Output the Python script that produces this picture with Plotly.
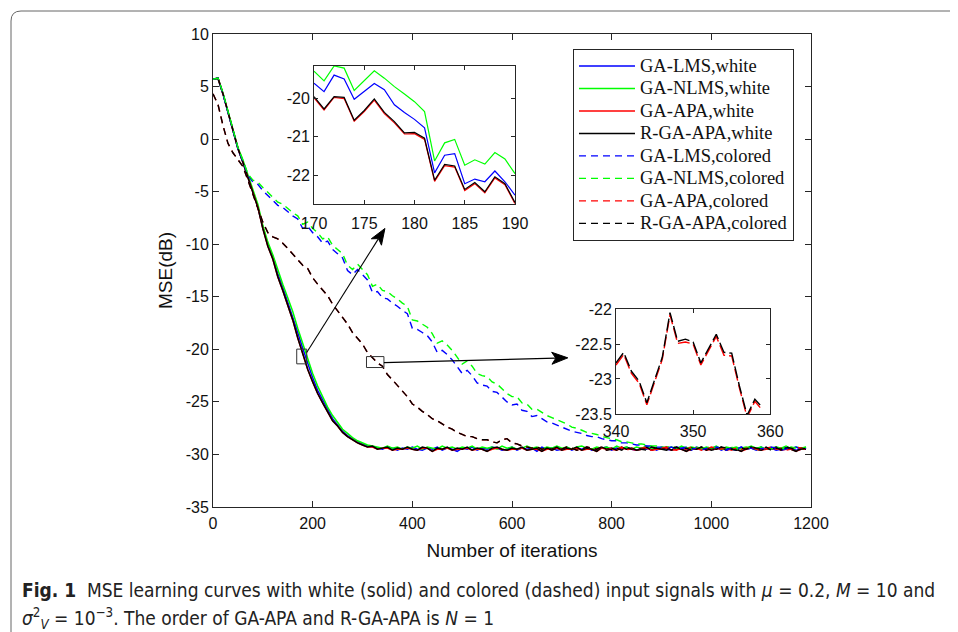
import plotly.graph_objects as go

# ---------------- data ----------------
ITER = list(range(0, 1200, 10))  # 0 .. 1190

W_LMS = [5.7, 5.8, 4.3, 2.5, 0.8, -0.9, -2.2, -3.6, -5.1, -6.4,
         -8.4, -10.0, -11.2, -12.8, -14.1, -15.5, -16.8, -18.4, -19.9, -21.4,
         -22.7, -23.9, -24.8, -25.8, -26.6, -27.2, -27.8, -28.2, -28.5, -28.8,
         -29.0, -29.2, -29.3, -29.4, -29.5, -29.3, -29.4, -29.6, -29.4, -29.5,
         -29.3, -29.5, -29.6, -29.4, -29.5, -29.3, -29.6, -29.4, -29.5, -29.7,
         -29.4, -29.5, -29.3, -29.6, -29.4, -29.5, -29.3, -29.4, -29.6, -29.5,
         -29.3, -29.6, -29.4, -29.5, -29.4, -29.7, -29.3, -29.5, -29.4, -29.6,
         -29.5, -29.3, -29.6, -29.4, -29.5, -29.3, -29.6, -29.5, -29.4, -29.3,
         -29.6, -29.4, -29.5, -29.3, -29.5, -29.6, -29.4, -29.5, -29.3, -29.6,
         -29.4, -29.5, -29.6, -29.3, -29.4, -29.5, -29.6, -29.3, -29.5, -29.4,
         -29.5, -29.3, -29.6, -29.4, -29.5, -29.6, -29.3, -29.5, -29.4, -29.6,
         -29.3, -29.5, -29.4, -29.6, -29.5, -29.3, -29.4, -29.6, -29.5, -29.4]

W_NLMS = [5.7, 5.8, 4.4, 2.6, 0.9, -0.8, -2.0, -3.4, -4.9, -6.2,
          -8.2, -9.8, -11.0, -12.5, -13.8, -15.1, -16.4, -18.0, -19.5, -21.0,
          -22.3, -23.5, -24.5, -25.5, -26.3, -27.0, -27.6, -28.0, -28.4, -28.7,
          -28.9, -29.1, -29.2, -29.3, -29.4, -29.2, -29.4, -29.3, -29.5, -29.3,
          -29.4, -29.2, -29.5, -29.3, -29.4, -29.5, -29.2, -29.4, -29.3, -29.5,
          -29.3, -29.4, -29.2, -29.5, -29.3, -29.4, -29.3, -29.5, -29.2, -29.4,
          -29.3, -29.5, -29.4, -29.2, -29.4, -29.3, -29.5, -29.3, -29.4, -29.2,
          -29.4, -29.3, -29.5, -29.3, -29.2, -29.4, -29.5, -29.3, -29.4, -29.3,
          -29.5, -29.2, -29.4, -29.3, -29.5, -29.3, -29.4, -29.2, -29.4, -29.5,
          -29.3, -29.4, -29.3, -29.5, -29.2, -29.4, -29.3, -29.4, -29.5, -29.3,
          -29.4, -29.2, -29.5, -29.3, -29.4, -29.3, -29.5, -29.4, -29.2, -29.4,
          -29.3, -29.5, -29.4, -29.3, -29.4, -29.2, -29.5, -29.3, -29.4, -29.3]

W_APA = [5.7, 5.8, 4.3, 2.5, 0.8, -0.9, -2.2, -3.7, -5.2, -6.5,
         -8.5, -10.2, -11.4, -13.1, -14.4, -15.8, -17.2, -18.9, -20.4, -21.9,
         -23.1, -24.2, -25.1, -26.0, -26.8, -27.3, -27.9, -28.3, -28.6, -28.9,
         -29.1, -29.3, -29.3, -29.5, -29.4, -29.4, -29.6, -29.5, -29.5, -29.4,
         -29.5, -29.6, -29.4, -29.4, -29.7, -29.5, -29.5, -29.4, -29.6, -29.5,
         -29.5, -29.4, -29.6, -29.5, -29.5, -29.7, -29.5, -29.4, -29.5, -29.6,
         -29.5, -29.5, -29.4, -29.6, -29.5, -29.5, -29.7, -29.5, -29.5, -29.4,
         -29.6, -29.5, -29.5, -29.4, -29.6, -29.5, -29.5, -29.7, -29.4, -29.5,
         -29.5, -29.6, -29.4, -29.5, -29.5, -29.6, -29.5, -29.4, -29.6, -29.5,
         -29.5, -29.4, -29.6, -29.5, -29.5, -29.7, -29.5, -29.5, -29.4, -29.6,
         -29.5, -29.5, -29.4, -29.6, -29.5, -29.5, -29.7, -29.5, -29.4, -29.5,
         -29.6, -29.5, -29.5, -29.4, -29.6, -29.5, -29.5, -29.7, -29.5, -29.5]

W_RAPA = [5.7, 5.8, 4.3, 2.5, 0.8, -0.9, -2.2, -3.7, -5.2, -6.5,
          -8.5, -10.2, -11.4, -13.1, -14.4, -15.8, -17.2, -18.9, -20.4, -21.9,
          -23.1, -24.2, -25.1, -26.0, -26.8, -27.3, -27.9, -28.3, -28.6, -28.9,
          -29.1, -29.3, -29.2, -29.5, -29.4, -29.3, -29.6, -29.4, -29.5, -29.3,
          -29.5, -29.6, -29.3, -29.4, -29.7, -29.4, -29.5, -29.3, -29.6, -29.4,
          -29.5, -29.3, -29.6, -29.4, -29.5, -29.7, -29.4, -29.3, -29.5, -29.6,
          -29.4, -29.5, -29.3, -29.6, -29.5, -29.4, -29.7, -29.4, -29.5, -29.3,
          -29.6, -29.4, -29.5, -29.3, -29.6, -29.4, -29.5, -29.7, -29.3, -29.5,
          -29.4, -29.6, -29.3, -29.5, -29.4, -29.6, -29.5, -29.3, -29.6, -29.4,
          -29.5, -29.3, -29.6, -29.4, -29.5, -29.7, -29.4, -29.5, -29.3, -29.6,
          -29.4, -29.5, -29.3, -29.6, -29.4, -29.5, -29.7, -29.4, -29.3, -29.5,
          -29.6, -29.4, -29.5, -29.3, -29.6, -29.4, -29.5, -29.7, -29.4, -29.5]

C_LMS = [5.7, 5.8, 4.3, 2.5, 0.8, -0.9, -2.1, -3.4, -4.1, -4.3,
         -4.9, -5.4, -5.8, -6.3, -6.5, -6.9, -7.3, -7.6, -8.5, -8.3,
         -8.9, -9.3, -9.9, -9.7, -10.5, -10.9, -11.3, -12.5, -12.9, -12.4,
         -12.9, -13.4, -14.6, -14.5, -15.1, -15.2, -15.6, -15.9, -16.3, -16.6,
         -18.0, -18.1, -18.4, -18.7, -19.3, -20.3, -20.1, -20.5, -21.0, -21.6,
         -22.3, -22.0, -22.5, -23.2, -23.4, -23.5, -24.0, -24.1, -24.6, -25.0,
         -25.3, -25.2, -25.8, -25.9, -26.4, -26.3, -26.6, -26.9, -27.0, -27.2,
         -27.4, -27.6, -27.8, -27.9, -28.0, -28.2, -28.3, -28.3, -28.5, -28.6,
         -28.7, -28.7, -28.9, -28.9, -29.0, -29.1, -29.1, -29.2, -29.2, -29.3,
         -29.3, -29.4, -29.3, -29.5, -29.4, -29.3, -29.5, -29.4, -29.6, -29.4,
         -29.5, -29.3, -29.4, -29.6, -29.4, -29.5, -29.3, -29.5, -29.4, -29.6,
         -29.4, -29.5, -29.3, -29.4, -29.6, -29.5, -29.4, -29.3, -29.5, -29.4]

C_NLMS = [5.7, 5.8, 4.4, 2.6, 0.9, -0.8, -2.0, -3.3, -3.9, -4.1,
          -4.6, -5.1, -5.5, -6.0, -6.2, -6.6, -7.0, -7.3, -8.1, -7.9,
          -8.5, -8.9, -9.5, -9.3, -10.1, -10.5, -10.9, -12.0, -12.4, -11.9,
          -12.4, -12.9, -14.0, -13.8, -14.4, -14.5, -14.9, -15.2, -15.6, -15.9,
          -17.2, -17.3, -17.6, -17.9, -18.5, -19.4, -19.2, -19.6, -20.1, -20.7,
          -21.4, -21.1, -21.6, -22.3, -22.5, -22.6, -23.1, -23.3, -23.8, -24.2,
          -24.5, -24.5, -25.1, -25.2, -25.7, -25.7, -26.0, -26.3, -26.5, -26.7,
          -26.9, -27.1, -27.4, -27.5, -27.7, -27.9, -28.0, -28.1, -28.3, -28.4,
          -28.5, -28.6, -28.8, -28.8, -28.9, -29.0, -29.0, -29.1, -29.2, -29.2,
          -29.3, -29.3, -29.2, -29.4, -29.3, -29.4, -29.5, -29.3, -29.4, -29.3,
          -29.4, -29.3, -29.5, -29.4, -29.3, -29.5, -29.4, -29.3, -29.4, -29.5,
          -29.3, -29.4, -29.5, -29.3, -29.4, -29.5, -29.3, -29.4, -29.5, -29.3]

C_APA = [4.3, 3.3, 1.3, -0.4, -1.3, -1.9, -2.6, -3.9, -5.3, -6.6,
         -7.9, -8.9, -9.3, -9.5, -9.9, -10.4, -10.9, -11.5, -12.0, -12.3,
         -13.2, -13.8, -14.4, -14.9, -15.7, -16.3, -17.0, -17.6, -18.4, -19.0,
         -19.5, -20.3, -20.8, -21.3, -21.6, -22.4, -22.9, -23.4, -23.9, -24.5,
         -25.2, -25.5, -25.9, -26.2, -26.6, -26.8, -27.1, -27.4, -27.6, -27.9,
         -28.1, -28.3, -28.3, -28.5, -28.6, -28.6, -28.8, -28.9, -28.6, -28.5,
         -28.9, -29.0, -29.2, -29.3, -29.4, -29.3, -29.5, -29.4, -29.6, -29.4,
         -29.5, -29.3, -29.4, -29.6, -29.5, -29.3, -29.4, -29.5, -29.3, -29.6,
         -29.4, -29.5, -29.3, -29.6, -29.4, -29.5, -29.4, -29.3, -29.6, -29.5,
         -29.4, -29.3, -29.5, -29.6, -29.4, -29.5, -29.3, -29.4, -29.6, -29.5,
         -29.3, -29.4, -29.5, -29.3, -29.6, -29.4, -29.5, -29.4, -29.3, -29.5,
         -29.6, -29.4, -29.3, -29.5, -29.4, -29.6, -29.5, -29.3, -29.4, -29.5]

C_RAPA = [4.3, 3.3, 1.3, -0.4, -1.3, -1.9, -2.6, -3.9, -5.3, -6.6,
          -7.9, -8.9, -9.3, -9.5, -9.9, -10.4, -10.9, -11.5, -12.0, -12.3,
          -13.2, -13.8, -14.4, -14.9, -15.7, -16.3, -17.0, -17.6, -18.4, -19.0,
          -19.5, -20.3, -20.8, -21.3, -21.6, -22.4, -22.9, -23.4, -23.9, -24.5,
          -25.2, -25.5, -25.9, -26.2, -26.6, -26.8, -27.1, -27.4, -27.6, -27.9,
          -28.1, -28.3, -28.3, -28.5, -28.6, -28.6, -28.8, -28.9, -28.6, -28.5,
          -28.9, -29.0, -29.2, -29.3, -29.4, -29.3, -29.5, -29.4, -29.6, -29.4,
          -29.5, -29.3, -29.4, -29.6, -29.5, -29.3, -29.4, -29.5, -29.3, -29.6,
          -29.5, -29.4, -29.6, -29.3, -29.5, -29.4, -29.5, -29.6, -29.3, -29.4,
          -29.5, -29.6, -29.4, -29.3, -29.5, -29.4, -29.6, -29.5, -29.3, -29.4,
          -29.6, -29.5, -29.3, -29.4, -29.5, -29.6, -29.4, -29.5, -29.3, -29.4,
          -29.5, -29.3, -29.6, -29.4, -29.5, -29.3, -29.4, -29.6, -29.5, -29.4]

# zoomed inset 1 (white inputs, iterations 170..190)
INSET1_ITER = list(range(170, 191))
INSET1_NLMS = [-19.30, -19.55, -19.16, -19.22, -19.80, -19.54, -19.29, -19.48, -19.70, -19.89,
               -20.09, -20.35, -21.63, -21.16, -21.07, -21.74, -21.60, -21.71, -21.41, -21.58, -21.96]
INSET1_LMS = [-19.61, -19.83, -19.40, -19.50, -20.03, -19.83, -19.62, -19.78, -20.17, -20.37,
              -20.55, -20.77, -21.94, -21.48, -21.44, -22.22, -22.10, -22.17, -21.89, -22.17, -22.52]
INSET1_APA = [-19.99, -20.31, -19.98, -20.01, -20.60, -20.35, -20.05, -20.40, -20.64, -20.93,
              -20.92, -21.07, -22.16, -21.75, -21.79, -22.40, -22.22, -22.46, -22.07, -22.25, -22.74]
INSET1_RAPA = [-19.96, -20.28, -19.96, -19.98, -20.57, -20.32, -20.02, -20.37, -20.61, -20.90,
               -20.89, -21.04, -22.13, -21.72, -21.76, -22.37, -22.19, -22.43, -22.04, -22.22, -22.71]

# zoomed inset 2 (colored inputs, iterations 340..359)
INSET2_ITER = list(range(340, 360))
INSET2_RAPA = [-22.77, -22.62, -22.89, -23.03, -23.34, -23.01, -22.69, -22.05, -22.46, -22.43,
               -22.47, -22.77, -22.57, -22.36, -22.62, -22.63, -23.10, -23.52, -23.29, -23.41]
INSET2_APA = [-22.80, -22.65, -22.92, -23.06, -23.37, -23.04, -22.72, -22.08, -22.49, -22.47,
              -22.50, -22.80, -22.60, -22.39, -22.66, -22.67, -23.13, -23.55, -23.32, -23.45]

NAMES = ["GA-LMS,white", "GA-NLMS,white", "GA-APA,white", "R-GA-APA,white",
         "GA-LMS,colored", "GA-NLMS,colored", "GA-APA,colored", "R-GA-APA,colored"]
COLORS = ["#0000ff", "#00ff00", "#ff0000", "#000000",
          "#0000ff", "#00ff00", "#ff0000", "#000000"]
MAIN_SERIES = [W_LMS, W_NLMS, W_APA, W_RAPA, C_LMS, C_NLMS, C_APA, C_RAPA]

X_TICKS = [0, 200, 400, 600, 800, 1000, 1200]
Y_TICKS = [10, 5, 0, -5, -10, -15, -20, -25, -30, -35]
IN1_X = [170, 175, 180, 185, 190]
IN1_Y = [-20, -21, -22]
IN2_X = [340, 350, 360]
IN2_Y = [-22, -22.5, -23, -23.5]

# zoom boxes (iteration range, dB range) and arrows (tail -> head) in data units
BOXES = [((168, 188), (-21.38, -19.98)), ((308, 343), (-21.73, -20.69))]
ARROWS = [((188, -20.3), (345, -8.5)), ((343, -21.26), (712, -20.81))]

# ---------------- figure ----------------
W, H = 950, 624
ML, MT, PW, PH = 205, 26, 598, 473
X_RANGE, Y_RANGE = (0, 1200), (-35, 10)
SX = PW / (X_RANGE[1] - X_RANGE[0])   # px per iteration
SY = PH / (Y_RANGE[1] - Y_RANGE[0])   # px per dB


def hyphen_labels(vals):
    return [("%g" % v) for v in vals]


DASH = "7px,5px"
fig = go.Figure()

for i, (name, col, ys) in enumerate(zip(NAMES, COLORS, MAIN_SERIES)):
    fig.add_trace(go.Scatter(
        x=ITER, y=ys, mode="lines", legendgroup=f"g{i}",
        name=f"<span style='font-size:18.5px'>{name}</span>",
        line=dict(color=col, width=1.5 if i < 4 else 1.4, dash="solid" if i < 4 else DASH),
        xaxis="x", yaxis="y"))

for ys, col in zip([INSET1_LMS, INSET1_NLMS, INSET1_APA, INSET1_RAPA], COLORS[:4]):
    fig.add_trace(go.Scatter(x=INSET1_ITER, y=ys, mode="lines", showlegend=False,
                             line=dict(color=col, width=1.2), xaxis="x2", yaxis="y2"))

for ys, col in zip([INSET2_APA, INSET2_RAPA], ["#ff0000", "#000000"]):
    fig.add_trace(go.Scatter(x=INSET2_ITER, y=ys, mode="lines", showlegend=False,
                             line=dict(color=col, width=1.4, dash="12px,4px"),
                             xaxis="x3", yaxis="y3"))

TICKFONT = dict(family="Liberation Sans, Arial", size=16, color="#111")
AX = dict(showline=True, linecolor="#262626", linewidth=1, mirror="ticks",
          ticks="inside", ticklen=6, tickcolor="#262626", showgrid=False,
          zeroline=False, tickfont=TICKFONT)
TITLEFONT = dict(family="Liberation Sans, Arial", size=19, color="#111")

fig.update_layout(
    width=W, height=H,
    margin=dict(l=ML, r=W - ML - PW, t=MT, b=H - MT - PH),
    paper_bgcolor="white", plot_bgcolor="white",
    xaxis=dict(AX, domain=[0, 1], range=list(X_RANGE), tickvals=X_TICKS,
               ticktext=hyphen_labels(X_TICKS), ticklabelstandoff=2,
               title=dict(text="Number of iterations", standoff=12, font=TITLEFONT)),
    yaxis=dict(AX, domain=[0, 1], range=list(Y_RANGE), tickvals=Y_TICKS,
               ticktext=hyphen_labels(Y_TICKS),
               title=dict(text="MSE(dB)", standoff=8, font=TITLEFONT)),
    xaxis2=dict(AX, domain=[0.1689, 0.505], range=[170, 190], tickvals=IN1_X,
                ticktext=hyphen_labels(IN1_X), anchor="y2", ticklen=4, ticklabelstandoff=5),
    yaxis2=dict(AX, domain=[0.6412, 0.9327], range=[-22.74, -19.16], tickvals=IN1_Y,
                ticktext=hyphen_labels(IN1_Y), anchor="x2", ticklen=4),
    xaxis3=dict(AX, domain=[0.6739, 0.9319], range=[340, 360], tickvals=IN2_X,
                ticktext=hyphen_labels(IN2_X), anchor="y3", ticklen=4, ticklabelstandoff=3),
    yaxis3=dict(AX, domain=[0.1968, 0.4183], range=[-23.5, -22], tickvals=IN2_Y,
                ticktext=hyphen_labels(IN2_Y), anchor="x3", ticklen=4),
    legend=dict(x=0.602, y=0.969, xanchor="left", yanchor="top",
                bgcolor="white", bordercolor="#262626", borderwidth=1,
                font=dict(family="Liberation Serif, Times New Roman, serif", size=15, color="#111"),
                tracegroupgap=0, itemwidth=56, traceorder="normal"),
    showlegend=True,
)

# zoom boxes
for (bx0, bx1), (by0, by1) in BOXES:
    fig.add_shape(type="rect", xref="x", yref="y", x0=bx0, x1=bx1, y0=by0, y1=by1,
                  line=dict(color="#333", width=1))


# arrows drawn as a line plus a filled notched head (head size in px)
def arrow(tail, head, length=16, half=6, notch=4):
    tx, ty = tail[0] * SX, -tail[1] * SY
    hx, hyy = head[0] * SX, -head[1] * SY
    d = ((hx - tx) ** 2 + (hyy - ty) ** 2) ** 0.5
    ux, uy = (hx - tx) / d, (hyy - ty) / d
    nx, ny = -uy, ux
    bx, by = hx - length * ux, hyy - length * uy
    mx, my = hx - (length - notch) * ux, hyy - (length - notch) * uy

    def back(px, py):
        return px / SX, -py / SY
    p_tip = back(hx, hyy)
    p_l = back(bx + half * nx, by + half * ny)
    p_r = back(bx - half * nx, by - half * ny)
    p_m = back(mx, my)
    fig.add_shape(type="line", xref="x", yref="y", x0=tail[0], y0=tail[1], x1=p_m[0], y1=p_m[1],
                  line=dict(color="black", width=1.1))
    path = "M {},{} L {},{} L {},{} L {},{} Z".format(p_tip[0], p_tip[1], p_l[0], p_l[1],
                                                      p_m[0], p_m[1], p_r[0], p_r[1])
    fig.add_shape(type="path", xref="x", yref="y", path=path, fillcolor="black",
                  line=dict(color="black", width=1))


for t, h in ARROWS:
    arrow(t, h)

# page frame (rounded top-left corner), in paper units
fx0 = (11 - 8 - ML) / PW
fyt = (MT + PH - (11 - 8)) / PH
fxr = (W - ML) / PW + 0.02
fyb = -(H - MT - PH) / PH - 0.05
dx, dy = 10 / PW, 10 / PH
fig.add_shape(type="path", xref="paper", yref="paper",
              path=f"M {fx0},{fyb} L {fx0},{fyt - dy} Q {fx0},{fyt} {fx0 + dx},{fyt} L {fxr},{fyt}",
              line=dict(color="#666", width=1))

# caption (two lines)
CAP_FONT = dict(family="Liberation Sans Narrow, DejaVu Sans Condensed, Open Sans", size=19, color="#222")
cap_x = (20 - 8 - ML) / PW
fig.add_annotation(
    xref="paper", yref="paper", x=cap_x, y=(MT + PH - (590 - 8)) / PH, xanchor="left", yanchor="middle",
    align="left", showarrow=False, font=CAP_FONT,
    text=("<b>Fig. 1</b>  MSE learning curves with white (solid) and colored (dashed) input signals with "
          "<i>μ</i> = 0.2, <i>M</i> = 10 and"))
fig.add_annotation(
    xref="paper", yref="paper", x=cap_x, y=(MT + PH - (618 - 8)) / PH, xanchor="left", yanchor="middle",
    align="left", showarrow=False, font=CAP_FONT,
    text=("<i>σ</i><sup>2</sup><sub><i>V</i></sub> = 10<sup>−3</sup>. "
          "The order of GA-APA and R-GA-APA is <i>N</i> = 1"))

fig.write_html("out.html")
